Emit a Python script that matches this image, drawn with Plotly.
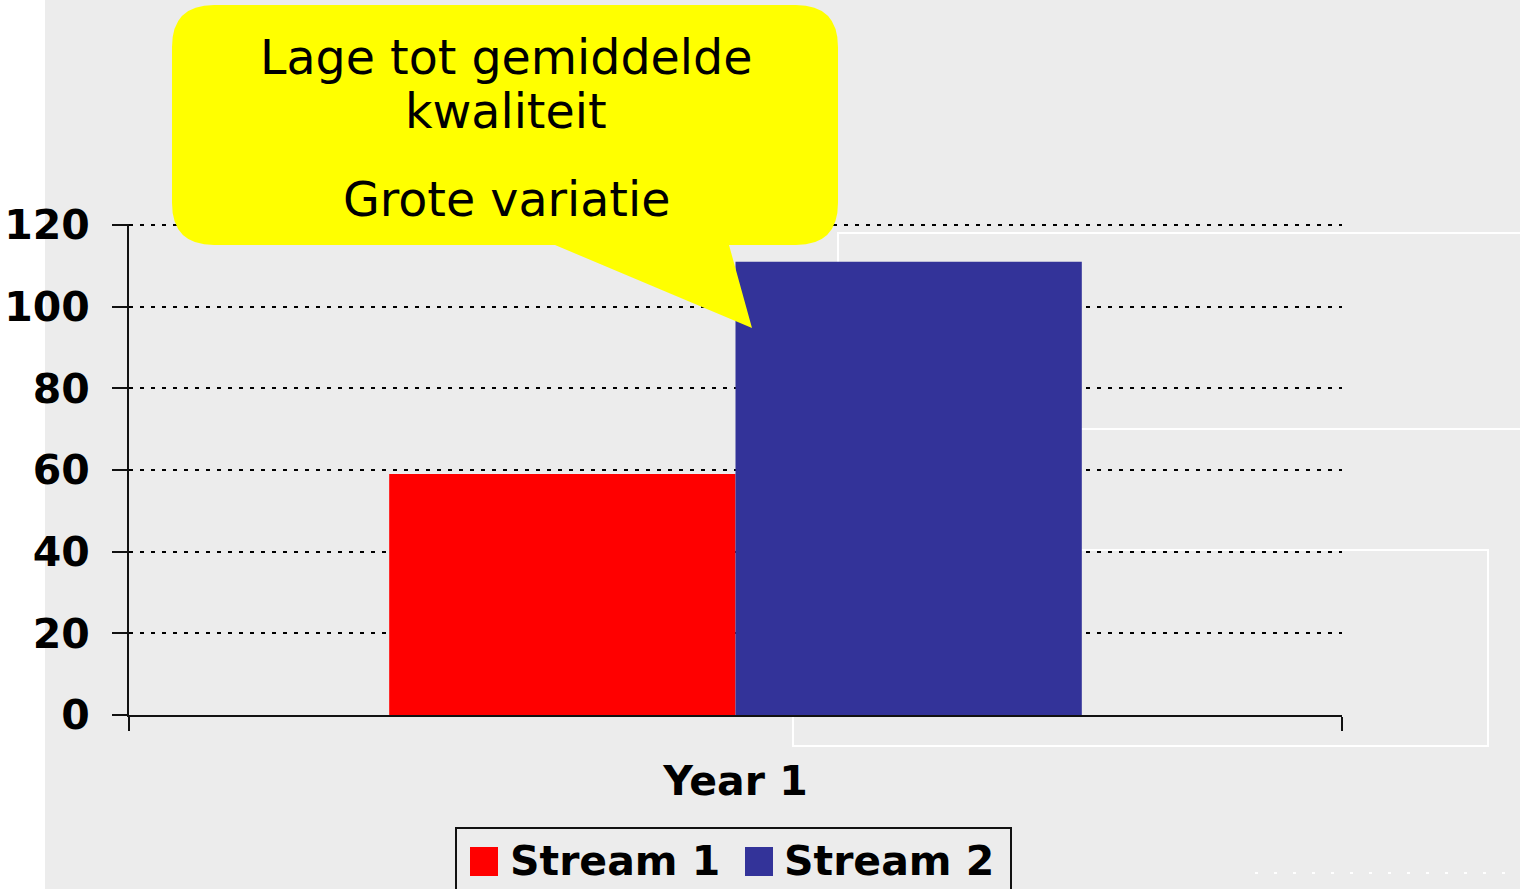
import plotly.graph_objects as go

# ---- data ----
categories = ["Year 1"]
series_names = ["Stream 1", "Stream 2"]
stream1 = [59]
stream2 = [111]
series_colors = ["#ff0000", "#333399"]
y_ticks = [0, 20, 40, 60, 80, 100, 120]
callout_lines = ["Lage tot gemiddelde", "kwaliteit", "Grote variatie"]

# ---- geometry (pixels) ----
W, H = 1520, 889
L, R, T, B = 129, 1342, 224, 715
BG = "#ececec"


def px(x):
    return (x - L) / (R - L)


def py(y):
    return (B - y) / (B - T)


def path(cmds):
    out = []
    for c in cmds:
        if c == "Z":
            out.append("Z")
            continue
        op, pts = c[0], c[1:]
        out.append(op + " ".join(f"{px(a):.5f},{py(b):.5f}" for a, b in pts))
    return " ".join(out)


fig = go.Figure()
for name, vals, col in zip(series_names, [stream1, stream2], series_colors):
    fig.add_trace(go.Bar(x=categories, y=vals, name=name,
                         marker=dict(color=col, line=dict(width=0)),
                         showlegend=False, hoverinfo="skip"))

bold_axis = dict(family="DejaVu Sans", size=41, color="black", weight="bold")
bold_leg = dict(family="DejaVu Sans", size=41, color="black", weight="bold")

fig.update_layout(
    width=W, height=H,
    margin=dict(l=L, r=W - R, t=T, b=H - B, pad=0, autoexpand=False),
    paper_bgcolor="white", plot_bgcolor="rgba(0,0,0,0)",
    barmode="group", bargap=0.429, bargroupgap=0,
    font=dict(family="DejaVu Sans", color="black"),
)
fig.update_xaxes(
    automargin=False,
    showline=True, linecolor="#111111", linewidth=2,
    ticks="outside", tickson="boundaries", ticklen=14, tickwidth=2, tickcolor="#111111",
    tickfont=bold_axis, showgrid=False, ticklabelstandoff=29,
)
fig.update_yaxes(
    automargin=False,
    range=[0, 120.25], tickvals=y_ticks, showline=True, linecolor="#111111", linewidth=2,
    ticks="outside", ticklen=15, tickwidth=2, tickcolor="#111111",
    showgrid=True, gridcolor="black", gridwidth=2, griddash="4px,7px",
    zeroline=False, tickfont=bold_axis, ticklabelstandoff=14,
)

shapes = []
# grey slide background with white strip on the left
shapes.append(dict(type="rect", xref="paper", yref="paper", layer="below",
                   x0=px(45), x1=px(W + 10), y0=py(-10), y1=py(H + 10),
                   fillcolor=BG, line=dict(width=0)))
# faint white outlines of slide decoration
shapes.append(dict(type="rect", xref="paper", yref="paper", layer="below",
                   x0=px(838), x1=px(W + 10), y0=py(233), y1=py(429),
                   line=dict(color="white", width=2)))
shapes.append(dict(type="rect", xref="paper", yref="paper", layer="below",
                   x0=px(793), x1=px(1488), y0=py(550), y1=py(746),
                   line=dict(color="white", width=2)))
shapes.append(dict(type="line", xref="paper", yref="paper", layer="below",
                   x0=px(1255), x1=px(W), y0=py(873), y1=py(873),
                   line=dict(color="white", width=2, dash="3px,16px")))

# callout bubble
x0, x1, y0, y1, r = 172, 838, 5, 245, 42
bubble = [
    ("M", (x0 + r, y0)), ("L", (x1 - r, y0)), ("Q", (x1, y0), (x1, y0 + r)),
    ("L", (x1, y1 - r)), ("Q", (x1, y1), (x1 - r, y1)),
    ("L", (729, y1)), ("L", (752, 328)), ("L", (555, y1)),
    ("L", (x0 + r, y1)), ("Q", (x0, y1), (x0, y1 - r)),
    ("L", (x0, y0 + r)), ("Q", (x0, y0), (x0 + r, y0)), "Z",
]
shapes.append(dict(type="path", xref="paper", yref="paper", layer="above",
                   path=path(bubble), fillcolor="#ffff00", line=dict(width=0)))

# legend box
shapes.append(dict(type="rect", xref="paper", yref="paper", layer="above",
                   x0=px(456), x1=px(1011), y0=py(828), y1=py(H + 20),
                   fillcolor=BG, line=dict(color="#111111", width=2)))
legend_sq_x = [470, 745]
legend_txt_x = [508, 782]
annotations = []
for name, col, sx, tx in zip(series_names, series_colors, legend_sq_x, legend_txt_x):
    shapes.append(dict(type="rect", xref="paper", yref="paper", layer="above",
                       x0=px(sx), x1=px(sx + 28), y0=py(847), y1=py(876),
                       fillcolor=col, line=dict(width=0)))
    annotations.append(dict(text=name, xref="paper", yref="paper", x=px(tx), y=py(861),
                            xanchor="left", yanchor="middle", showarrow=False,
                            font=bold_leg))

callout_y = [57, 112, 199]
for txt, cy in zip(callout_lines, callout_y):
    annotations.append(dict(text=txt, xref="paper", yref="paper", x=px(506), y=py(cy),
                            xanchor="center", yanchor="middle", showarrow=False,
                            font=dict(family="DejaVu Sans", size=47.5, color="black")))

fig.update_layout(shapes=shapes, annotations=annotations)
fig.write_html(
    "out.html",
    config={"displayModeBar": False},
    post_script="document.body.style.margin='0px';document.documentElement.style.overflow='hidden';",
)
